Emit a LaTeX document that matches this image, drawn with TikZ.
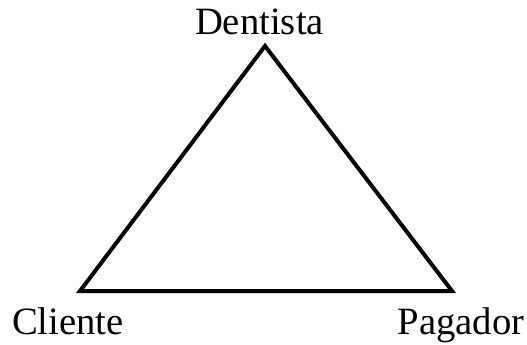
\documentclass[tikz,border=0pt]{standalone}
\usepackage{fontspec}
\setmainfont{Liberation Serif}
\usetikzlibrary{positioning}

\begin{document}
\begin{tikzpicture}[x=0.75pt,y=-0.75pt]
		\useasboundingbox (0,0) rectangle (527,345);
		\tikzset{side/.style={line width=3pt,line join=miter},
			party/.style={anchor=base,inner sep=0pt,font=\fontsize{29}{31}\selectfont}}
		\coordinate (top) at (265,46);
		\coordinate (left) at (80,291);
		\coordinate (right) at (452,291);
		\draw[side] (top) -- (right) -- (left) -- cycle;
		\node[party] (dentista) at (259.5,35) {Dentista};
		\node[party] (cliente) at (68,334) {Cliente};
		\node[party] (pagador) at (461,334) {Pagador};
	\end{tikzpicture}
\end{document}
